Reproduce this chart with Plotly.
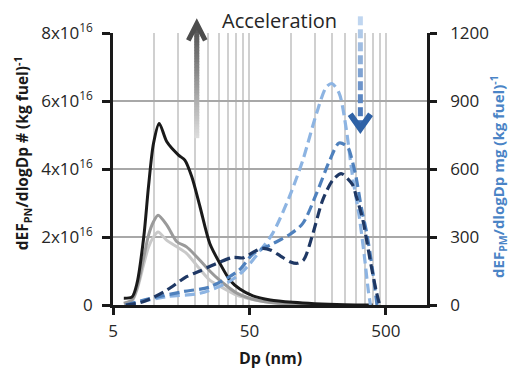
import plotly.graph_objects as go
import math

# ---------------- data ----------------
# Particle number distributions (left axis, x1e16)
dp_black = [6.0, 6.9, 7.5, 8.4, 9.1, 9.9, 10.9, 12.4, 15.1, 16.8, 18.9, 21.7, 25.6, 30.4, 36.0, 42.5, 53, 71, 104, 150, 250, 400]
pn_black = [0.2, 0.24, 0.64, 2.0, 3.48, 4.75, 5.34, 4.8, 4.41, 4.26, 3.77, 2.89, 1.81, 1.22, 0.73, 0.47, 0.27, 0.15, 0.08, 0.04, 0.01, 0.0]

dp_grey = [6.0, 6.9, 7.5, 8.4, 9.1, 9.9, 10.7, 12.4, 14.7, 17.3, 20.5, 25.6, 30.4, 40.4, 50, 70, 100, 150]
pn_grey = [0.05, 0.15, 0.5, 1.4, 2.05, 2.45, 2.64, 2.35, 1.86, 1.71, 1.42, 1.0, 0.72, 0.35, 0.2, 0.08, 0.03, 0.0]

dp_lgrey = [6.0, 6.9, 7.5, 8.4, 9.1, 9.9, 10.7, 12.4, 14.7, 17.3, 20.5, 25.6, 30.4, 40.4, 50, 70, 100, 150]
pn_lgrey = [0.04, 0.12, 0.45, 1.2, 1.7, 2.0, 2.15, 1.9, 1.71, 1.52, 1.17, 0.73, 0.55, 0.29, 0.18, 0.07, 0.02, 0.0]

# Particle mass distributions (right axis)
dp_navy = [6.2, 8.4, 12.4, 17.3, 21.7, 30.4, 38, 45, 53, 62, 72, 85, 100, 112, 125, 145, 172, 204, 235, 260, 285, 303, 339, 365, 388, 425, 450]
pm_navy = [0, 15, 66, 125, 150, 190, 210, 208, 232, 250, 242, 215, 190, 184, 200, 310, 463, 551, 580, 560, 530, 480, 375, 270, 180, 60, 0]

dp_med = [6.2, 9.4, 16.3, 25.6, 42, 53, 74, 98, 123, 155, 194, 227, 262, 285, 303, 330, 361, 399, 430]
pm_med = [0, 29, 59, 80, 154, 225, 270, 310, 360, 492, 639, 715, 697, 630, 560, 430, 320, 154, 0]

dp_lblue = [6.2, 12.4, 21.7, 33.8, 45, 59, 74, 98, 123, 155, 183, 201, 227, 254, 285, 319, 348, 372, 385]
pm_lblue = [0, 37, 52, 96, 150, 235, 316, 477, 639, 845, 962, 977, 935, 790, 565, 389, 213, 60, 0]

left_ticks = [0, 2e16, 4e16, 6e16, 8e16]
left_text = ["0", "2x10<sup>16</sup>", "4x10<sup>16</sup>", "6x10<sup>16</sup>", "8x10<sup>16</sup>"]
right_ticks = [0, 300, 600, 900, 1200]
x_major = [5, 50, 500]
x_minor = [m * d for d in (5, 50) for m in range(1, 10)] + [1000]

FONT = "Open Sans"

fig = go.Figure()

def solid(dp, v, color):
    fig.add_trace(go.Scatter(x=dp, y=[a * 1e16 for a in v], mode="lines",
                             line=dict(color=color, width=3, shape="spline", smoothing=0.8),
                             yaxis="y", showlegend=False, hoverinfo="skip"))

def dashed(dp, v, color):
    fig.add_trace(go.Scatter(x=dp, y=v, mode="lines",
                             line=dict(color=color, width=3.2, dash="10px,5px", shape="spline", smoothing=0.8),
                             yaxis="y2", showlegend=False, hoverinfo="skip"))

solid(dp_lgrey, pn_lgrey, "#c9c9c9")
solid(dp_grey, pn_grey, "#9a9a9a")
solid(dp_black, pn_black, "#1a1a1a")
dashed(dp_lblue, pm_lblue, "#8db4e2")
dashed(dp_med, pm_med, "#4f81bd")
dashed(dp_navy, pm_navy, "#1f3864")

# ---------------- layout geometry ----------------
L, R, T, B = 112.7, 427.5, 32.7, 305.0
W, H = 510, 369

def px(x):
    return (x - L) / (R - L)

def py(y):
    return (B - y) / (B - T)

def lerp_color(c1, c2, t):
    a = [int(c1[i:i + 2], 16) for i in (1, 3, 5)]
    b = [int(c2[i:i + 2], 16) for i in (1, 3, 5)]
    return "#%02x%02x%02x" % tuple(int(round(a[i] + (b[i] - a[i]) * t)) for i in range(3))

shapes = []
# grey gradient arrow (up)
gx = 196.7
y_bot, y_top = 138.0, 25.0
n = 40
for i in range(n):
    y0 = y_bot - (y_bot - y_top) * i / n
    y1 = y_bot - (y_bot - y_top) * (i + 1) / n - 0.6
    c = lerp_color("#dcdcdc", "#505050", i / (n - 1))
    shapes.append(dict(type="line", xref="paper", yref="paper", x0=px(gx), x1=px(gx),
                       y0=py(y0), y1=py(y1), line=dict(color=c, width=5)))
shapes.append(dict(type="path", xref="paper", yref="paper",
                   path="M %f,%f L %f,%f L %f,%f" % (px(188.2), py(40), px(gx), py(23.5), px(205.2), py(40)),
                   line=dict(color="#4d4d4d", width=5)))

# blue dashed gradient arrow (down)
bx = 360.7
y_s, y_e = 16.0, 124.0
seg, gap = 9.0, 4.0
y = y_s
segs = []
while y < y_e:
    segs.append((y, min(y + seg, y_e)))
    y += seg + gap
for j, (a, b) in enumerate(segs):
    c = lerp_color("#c0d6f0", "#3b6db3", j / max(1, len(segs) - 1))
    shapes.append(dict(type="line", xref="paper", yref="paper", x0=px(bx), x1=px(bx),
                       y0=py(a), y1=py(b), line=dict(color=c, width=5)))
shapes.append(dict(type="path", xref="paper", yref="paper",
                   path="M %f,%f L %f,%f L %f,%f" % (px(350.5), py(114), px(bx), py(128.5), px(370.9), py(114)),
                   line=dict(color="#2f62a6", width=6)))

annotations = [
    dict(text="Acceleration", x=px(280), y=py(20.5), xref="paper", yref="paper",
         showarrow=False, xanchor="center", yanchor="middle",
         font=dict(family=FONT, size=20, color="#262626")),
    dict(text="<b>Dp (nm)</b>", x=px(271), y=py(358), xref="paper", yref="paper",
         showarrow=False, xanchor="center", yanchor="middle",
         font=dict(family=FONT, size=16, color="#1a1a1a")),
    dict(text="<b>dEF<sub>PN</sub>/dlogDp # (kg fuel)<sup>-1</sup></b>", x=px(21.5), y=py(153),
         xref="paper", yref="paper", showarrow=False, textangle=-90,
         xanchor="center", yanchor="middle",
         font=dict(family=FONT, size=15.5, color="#1a1a1a")),
    dict(text="<b>dEF<sub>PM</sub>/dlogDp mg (kg fuel)<sup>-1</sup></b>", x=px(498.5), y=py(176),
         xref="paper", yref="paper", showarrow=False, textangle=-90,
         xanchor="center", yanchor="middle",
         font=dict(family=FONT, size=15, color="#4a84c6")),
]

fig.update_layout(
    width=W, height=H,
    margin=dict(l=L, r=W - R, t=T, b=H - B, pad=0),
    paper_bgcolor="white", plot_bgcolor="white",
    font=dict(family=FONT, size=17, color="#262626"),
    xaxis=dict(type="log", range=[math.log10(5), math.log10(1000)],
               tickvals=x_major, ticktext=[str(v) for v in x_major],
               showgrid=True, gridcolor="#d0d0d0", gridwidth=1.5,
               minor=dict(tickvals=x_minor, showgrid=True, gridcolor="#d0d0d0", gridwidth=1.5, ticks=""),
               showline=True, linecolor="#1a1a1a", linewidth=3,
               ticks="outside", ticklen=7, tickwidth=2.5, tickcolor="#1a1a1a",
               ticklabelstandoff=2, zeroline=False,
               tickfont=dict(family=FONT, size=17, color="#262626")),
    yaxis=dict(range=[0, 8e16], tickvals=left_ticks, ticktext=left_text,
               showgrid=True, gridcolor="#a8a8a8", gridwidth=1.5, zeroline=False,
               showline=True, linecolor="#1a1a1a", linewidth=2.5,
               ticks="outside", ticklen=8, tickwidth=2.5, tickcolor="#1a1a1a",
               ticklabelstandoff=6,
               tickfont=dict(family=FONT, size=17, color="#262626")),
    yaxis2=dict(range=[0, 1200], tickvals=right_ticks, overlaying="y", side="right",
                showgrid=False, zeroline=False,
                showline=True, linecolor="#1a1a1a", linewidth=2.5,
                ticks="outside", ticklen=7, tickwidth=2.5, tickcolor="#1a1a1a",
                ticklabelstandoff=10,
                tickfont=dict(family=FONT, size=17, color="#262626")),
    shapes=shapes,
    annotations=annotations,
    showlegend=False,
)

fig.write_html("out.html")
